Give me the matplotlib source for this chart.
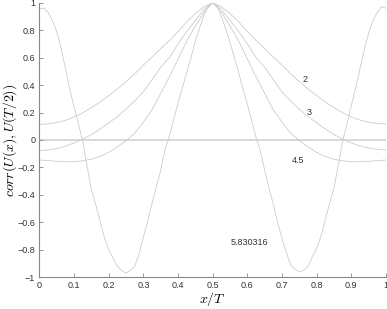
import numpy as np
import matplotlib
matplotlib.use("Agg")
import matplotlib.pyplot as plt

plt.rcParams['mathtext.fontset'] = 'cm'
plt.rcParams['font.family'] = ['Liberation Sans', 'DejaVu Sans']

# smooth curves sampled every 0.025
x_smooth = [i * 0.025 for i in range(41)]
curve_2 = [0.114, 0.117, 0.127, 0.143, 0.167, 0.198, 0.235, 0.277, 0.322, 0.372,
           0.425, 0.482, 0.545, 0.605, 0.665, 0.725, 0.79, 0.86, 0.92, 0.97,
           1.0,
           0.97, 0.92, 0.86, 0.79, 0.725, 0.665, 0.605, 0.545, 0.482, 0.425,
           0.372, 0.322, 0.277, 0.235, 0.198, 0.168, 0.145, 0.129, 0.119, 0.117]
curve_3 = [-0.078, -0.073, -0.062, -0.045, -0.022, 0.006, 0.04, 0.08, 0.125, 0.17,
           0.225, 0.285, 0.35, 0.44, 0.53, 0.60, 0.70, 0.79, 0.87, 0.95,
           1.0,
           0.95, 0.87, 0.79, 0.70, 0.60, 0.53, 0.44, 0.35, 0.285, 0.225,
           0.17, 0.125, 0.08, 0.04, 0.006, -0.022, -0.043, -0.058, -0.068, -0.073]
curve_45 = [-0.146, -0.150, -0.155, -0.158, -0.158, -0.152, -0.14, -0.12, -0.09, -0.05,
            -0.005, 0.05, 0.13, 0.22, 0.34, 0.46, 0.59, 0.72, 0.83, 0.93,
            1.0,
            0.93, 0.83, 0.72, 0.59, 0.46, 0.34, 0.22, 0.13, 0.05, -0.005,
            -0.05, -0.09, -0.12, -0.14, -0.152, -0.158, -0.158, -0.155, -0.150, -0.146]

# oscillating curve sampled every 0.0125
x_osc = [i * 0.0125 for i in range(81)]
curve_583 = [0.955, 0.96, 0.93, 0.87, 0.79, 0.67, 0.52, 0.37, 0.24, 0.12,
             -0.01, -0.19, -0.36, -0.47, -0.59, -0.71, -0.80, -0.86, -0.92, -0.95,
             -0.97, -0.95, -0.92, -0.83, -0.71, -0.59, -0.46, -0.34, -0.22, -0.07,
             0.03, 0.15, 0.27, 0.38, 0.49, 0.60, 0.72, 0.82, 0.91, 0.98,
             1.0,
             0.98, 0.90, 0.81, 0.71, 0.60, 0.49, 0.37, 0.26, 0.14, 0.02,
             -0.08, -0.22, -0.35, -0.47, -0.60, -0.72, -0.82, -0.91, -0.94, -0.96,
             -0.95, -0.92, -0.85, -0.79, -0.70, -0.58, -0.46, -0.35, -0.18, -0.01,
             0.12, 0.25, 0.38, 0.52, 0.66, 0.78, 0.87, 0.93, 0.97, 0.96]

labels = ["2", "3", "4.5", "5.830316"]
label_pos = [(0.767, 0.442), (0.777, 0.199), (0.746, -0.153), (0.605, -0.748)]

xticks = [0, 0.1, 0.2, 0.3, 0.4, 0.5, 0.6, 0.7, 0.8, 0.9, 1]
xticklabels = ["0", "0.1", "0.2", "0.3", "0.4", "0.5", "0.6", "0.7", "0.8", "0.9", "1"]
yticks = [-1, -0.8, -0.6, -0.4, -0.2, 0, 0.2, 0.4, 0.6, 0.8, 1]
yticklabels = ["\u22121", "\u22120.8", "\u22120.6", "\u22120.4", "\u22120.2", "0",
               "0.2", "0.4", "0.6", "0.8", "1"]

fig = plt.figure(figsize=(3.87, 3.09), dpi=100)
ax = fig.add_axes([0.1018, 0.1026, 0.8956, 0.8887])

line_col = '#cccccc'
ax.axhline(0, color='#d8d8d8', lw=1.4, zorder=1)
ax.plot(x_smooth, curve_2, color=line_col, lw=0.6)
ax.plot(x_smooth, curve_3, color=line_col, lw=0.6)
ax.plot(x_smooth, curve_45, color=line_col, lw=0.6)
ax.plot(x_osc, curve_583, color=line_col, lw=0.6)

for t, (lx, ly) in zip(labels, label_pos):
    ax.text(lx, ly, t, fontsize=6.5, color='#333333', ha='center', va='center')

ax.set_xlim(0, 1)
ax.set_ylim(-1, 1)
ax.set_xticks(xticks)
ax.set_xticklabels(xticklabels)
ax.set_yticks(yticks)
ax.set_yticklabels(yticklabels)
for s in ['top', 'right']:
    ax.spines[s].set_visible(False)
for s in ['left', 'bottom']:
    ax.spines[s].set_color('#888888')
    ax.spines[s].set_linewidth(0.8)
ax.tick_params(direction='in', length=3, width=0.6, colors='#888888',
               labelsize=6.5, labelcolor='#333333', pad=3)

ax.set_xlabel(r'$x/T$', fontsize=10, labelpad=-0.5)
ax.set_ylabel(r'$corr(U(x),U(T/2))$', fontsize=10, labelpad=-1)

fig.savefig('out.png', dpi=100)
